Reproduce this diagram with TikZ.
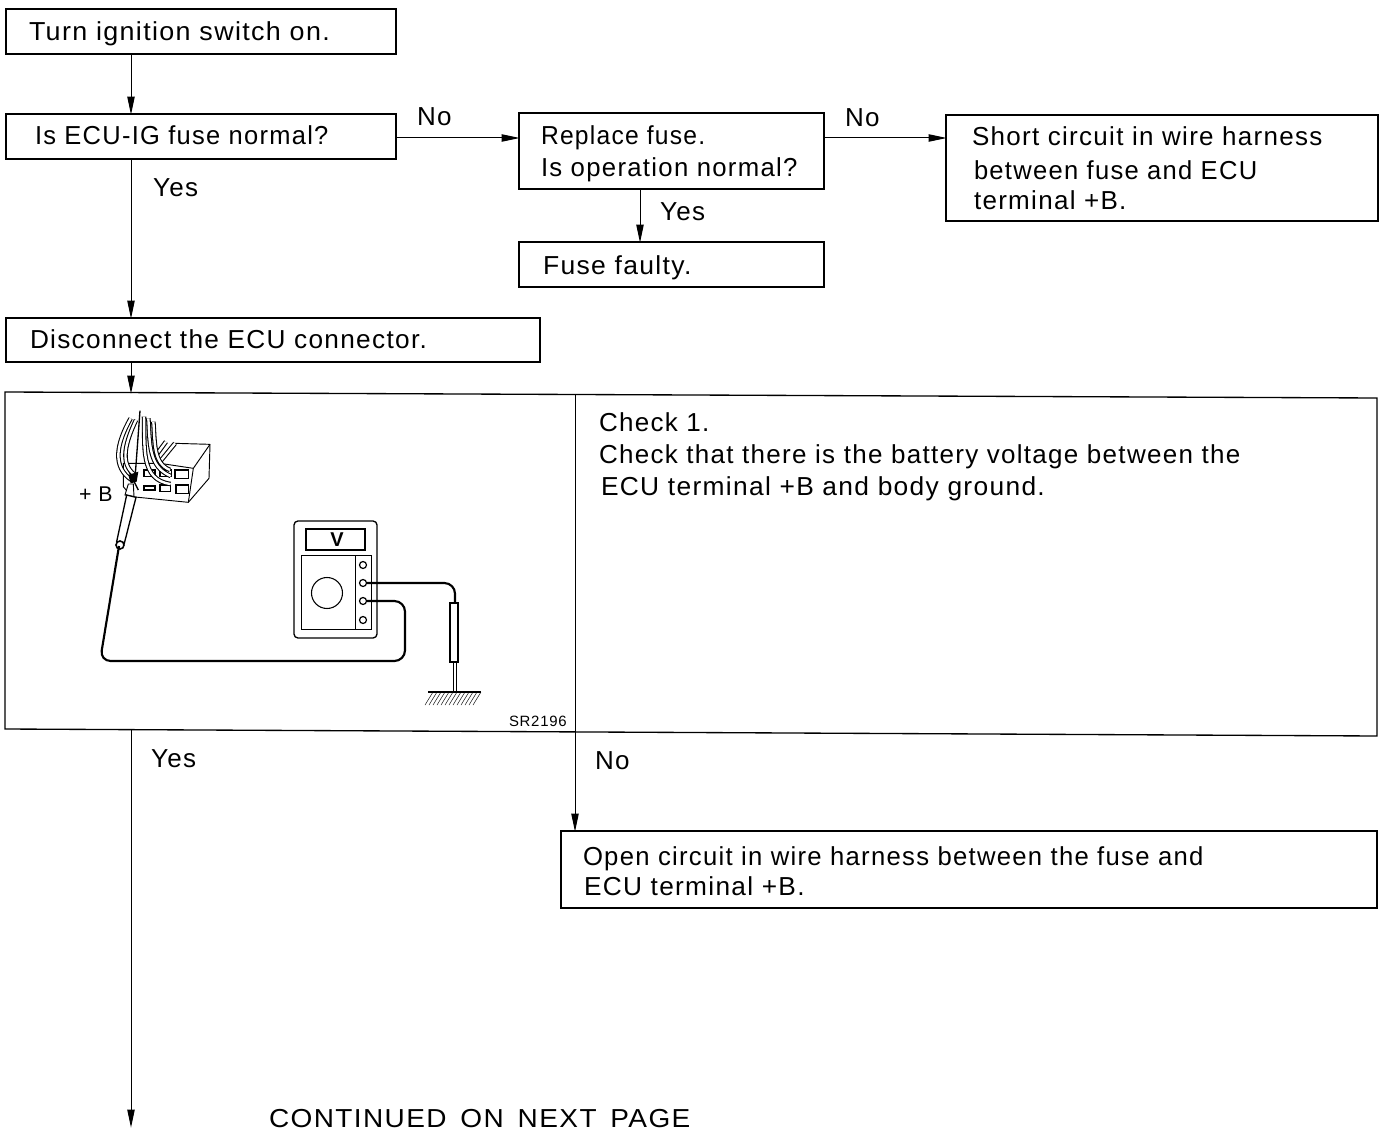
\documentclass[tikz,border=0pt]{standalone}
\usepackage{fontspec}
\setmainfont[LetterSpace=5]{Liberation Sans}
\usetikzlibrary{arrows.meta}
\tikzset{
  px/.style={x=0.75pt,y=-0.75pt},
  lbl/.style={anchor=base west,inner sep=0pt,outer sep=0pt,font=\fontsize{19.5}{23}\selectfont},
  flow/.style={draw=black,line width=0.75pt,-{Triangle[length=13.5pt,width=5.5pt]},shorten >=-0.5pt},
  pic1/.style={line width=0.7pt},
  wire/.style={line width=0.8pt,double=white,double distance=1.8pt},
  lead/.style={line width=1.6pt,rounded corners=8pt}
}
\newcommand{\sx}[2]{\scalebox{#1}[1]{#2}}
\newcommand{\bx}[5]{% name x1 y1 x2 y2
  \draw[line width=1pt] (#2,#3) rectangle (#4,#5);
  \coordinate (#1-nw) at (#2,#3);
  \coordinate (#1-se) at (#4,#5);
}
\begin{document}
\begin{tikzpicture}[px]
\useasboundingbox (0,0) rectangle (1384,1130);
\fill[white] (0,0) rectangle (1384,1130);
\coordinate (c1) at (131,0);
\coordinate (c2) at (640,0);
\coordinate (c3) at (575,0);
% boxes
\bx{a}{6}{9}{396}{54}
\bx{b}{6}{114}{396}{159}
\bx{c}{519}{113}{824}{189}
\bx{d}{519}{242}{824}{287}
\bx{e}{946}{115}{1378}{221}
\bx{f}{6}{318}{540}{362}
\bx{h}{561}{831}{1377}{908}
% large box
\coordinate (g-nw) at (5,392);
\coordinate (g-ne) at (1377,398);
\coordinate (g-se) at (1377,736);
\coordinate (g-sw) at (5,729);
\coordinate (g-s) at (131,730);
\coordinate (g-n) at (131,393);
\coordinate (g-div) at (575,394);
\coordinate (bottom) at (131,1127);
\draw[line width=1pt] (g-nw) -- (g-ne) -- (g-se) -- (g-sw) -- cycle;
% connectors
\draw[flow] (a-se -| c1) -- (b-nw -| c1);
\draw[flow] (b-se -| c1) -- (f-nw -| c1);
\draw[flow] (f-se -| c1) -- (g-n);
\draw[flow] (g-s) -- (bottom);
\draw[flow] (g-div) -- (h-nw -| c3);
\draw[flow] (396,138) -- (c-nw |- 0,138);
\draw[flow] (824,138) -- (e-nw |- 0,138);
\draw[flow] (c-se -| c2) -- (d-nw -| c2);
% text
\node[lbl] (t1) at (29,41) {\sx{1.034}{Turn ignition switch on.}};
\node[lbl] (t2) at (35,145) {\sx{.98}{Is ECU-IG fuse normal?}};
\node[lbl] (t3) at (417,126) {No};
\node[lbl] (t4) at (541,145) {\sx{.948}{Replace fuse.}};
\node[lbl] (t5) at (541,177) {\sx{.99}{Is operation normal?}};
\node[lbl] (t6) at (845,127) {No};
\node[lbl] (t7) at (972,146) {Short circuit in wire harness};
\node[lbl] (t8) at (974,180) {\sx{.983}{between fuse and ECU}};
\node[lbl] (t9) at (974,210) {terminal +B.};
\node[lbl] (t10) at (153,197) {Yes};
\node[lbl] (t11) at (660,221) {Yes};
\node[lbl] (t12) at (543,275) {\sx{1.02}{Fuse faulty.}};
\node[lbl] (t13) at (30,349) {\sx{1.008}{Disconnect the ECU connector.}};
\node[lbl] (t14) at (599,431) {Check 1.};
\node[lbl] (t15) at (599,463) {Check that there is the battery voltage between the};
\node[lbl] (t16) at (601,495) {\sx{1.014}{ECU terminal +B and body ground.}};
\node[lbl] (t17) at (151,767) {Yes};
\node[lbl] (t18) at (595,769) {No};
\node[lbl] (t19) at (583,865) {\sx{.987}{Open circuit in wire harness between the fuse and}};
\node[lbl] (t20) at (584,895) {\sx{1.01}{ECU terminal +B.}};
\node[lbl] (t21) at (269,1127) {\sx{1.077}{CONTINUED\, ON\, NEXT\, PAGE}};
\node[lbl,font=\fontsize{16}{18}\selectfont] (t22) at (79,501) {+ B};
\node[lbl,font=\fontsize{11.2}{13}\selectfont] (t23) at (509,726) {SR2196};
% connector illustration (coordinates of the 3x crop)
\begin{scope}[shift={(60,400)},x=0.25pt,y=-0.25pt]
  \draw[pic1,fill=white,line join=round] (300,190) -- (345,130) -- (450,133) -- (447,235) -- (385,307) -- (215,290) -- (190,260) -- (190,190) -- cycle;
  \draw[pic1] (450,133) -- (400,205) -- (385,307);
  \draw[pic1] (300,190) -- (400,205);
  \draw[line width=1pt] (345,210) rectangle (385,235);
  \draw[line width=1pt] (348,255) rectangle (385,280);
  \draw[line width=1pt] (300,255) rectangle (332,275);
  \draw[line width=1pt] (300,210) rectangle (335,230);
  \draw[line width=1pt] (252,258) rectangle (285,270);
  \draw[line width=1pt] (252,210) rectangle (285,230);
  \draw[line width=1pt] (205,210) -- (235,270);
  \draw[wire] (345,130) -- (300,185);
  \draw[wire] (318,125) -- (285,170);
  \draw[wire] (280,65) .. controls (285,130) and (280,190) .. (330,210);
  \draw[wire] (265,55) .. controls (270,130) and (265,200) .. (332,228);
  \draw[wire] (252,50) .. controls (255,140) and (240,240) .. (332,252);
  \draw[wire] (228,60) .. controls (200,120) and (175,190) .. (225,225);
  \draw[wire] (212,55) .. controls (170,130) and (155,200) .. (215,240);
  \draw[line width=1pt] (240,32) -- (225,235);
  \fill (205,225) -- (235,215) -- (230,245) -- (212,250) -- cycle;
  \draw[pic1,fill=white] (205,252) -- (220,252) -- (222,290) -- (195,285) -- cycle;
  \draw[line width=1pt,fill=white] (200,285) -- (228,292) -- (193,430) -- (170,425) -- cycle;
  \draw[line width=1.2pt,fill=white] (180,435) circle (12);
\end{scope}
% meter
\draw[line width=1pt,rounded corners=3pt] (294,521) rectangle (377,638);
\draw[line width=1pt] (306,529) rectangle (365,550);
\node[inner sep=0pt,font=\fontsize{15}{15}\selectfont\bfseries] (vlab) at (337,540) {V};
\draw[pic1] (301,555) rectangle (371,629);
\draw[pic1] (355,555) -- (355,629);
\draw[line width=0.8pt] (327,593) circle (15.5);
\foreach \yy in {565,583,601,620} \draw[line width=0.9pt] (363,\yy) circle (3.5);
% leads
\draw[lead] (367,583) -- (455,583) -- (455,604);
\draw[lead] (367,601) -- (405,601) -- (405,661) -- (100,661) -- (119,546);
% probe to ground
\draw[line width=0.9pt,fill=white] (450,603) rectangle (458,662);
\draw[line width=0.7pt] (453,662) -- (453,692);
\draw[line width=0.7pt] (456,662) -- (456,692);
\draw[line width=0.8pt] (428,692) -- (481,692);
\foreach \xx in {433,437,...,481}
  \draw[line width=0.35pt] (\xx,692) -- ({\xx-8},705);
\end{tikzpicture}
\end{document}
